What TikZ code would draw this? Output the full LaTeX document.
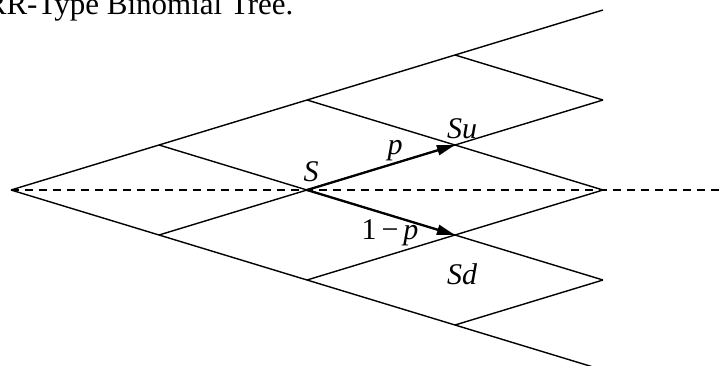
\documentclass[tikz,border=0pt]{standalone}
\usepackage{fontspec}
\setmainfont{Liberation Serif}
\usepackage{tikz}
\usetikzlibrary{arrows.meta,positioning}
\definecolor{treeink}{HTML}{000000}

\tikzset{
  lattice/.style={line width=1.4pt, color=treeink, line join=miter},
  midline/.style={line width=1.3pt, color=treeink, dash pattern=on 8pt off 6pt},
  probarrow/.style={line width=2.3pt, color=treeink, -{Triangle[length=18pt, width=10pt]}},
  lbl/.style={font=\fontsize{30}{34}\selectfont\itshape, inner sep=0pt, anchor=base}
}

\begin{document}
\begin{tikzpicture}[x=1pt, y=-1pt]
  \useasboundingbox[fill=white] (0, 0) rectangle (724, 365);

  % Title (cut off at the top edge)
  \node[font=\fontsize{31}{36}\selectfont, inner sep=0pt, anchor=base west] (title) at (-35, 14) {CRR-Type Binomial Tree.};

  % Lattice points
  \coordinate (a0) at (11, 190);
  \coordinate (b1) at (159, 145);
  \coordinate (b2) at (159, 235);
  \coordinate (c1) at (307, 100);
  \coordinate (c2) at (307, 190);
  \coordinate (c3) at (307, 280);
  \coordinate (d1) at (455, 55);
  \coordinate (d2) at (455, 145);
  \coordinate (d3) at (455, 235);
  \coordinate (d4) at (455, 325);
  \coordinate (e1) at (603, 10);
  \coordinate (e2) at (603, 100);
  \coordinate (e3) at (603, 190);
  \coordinate (e4) at (603, 280);
  \coordinate (e5) at (603, 370);
  \coordinate (tail) at (724, 190);

  % Dashed middle line
  \draw[midline] (a0) -- (tail);

  % Up and down moves
  \draw[lattice] (a0) -- (b1) -- (c1) -- (d1) -- (e1);
  \draw[lattice] (a0) -- (b2) -- (c3) -- (d4) -- (e5);
  \draw[lattice] (b1) -- (c2) -- (d3) -- (e4);
  \draw[lattice] (c1) -- (d2) -- (e3);
  \draw[lattice] (d1) -- (e2);
  \draw[lattice] (b2) -- (c2) -- (d2) -- (e2);
  \draw[lattice] (c3) -- (d3) -- (e3);
  \draw[lattice] (d4) -- (e4);

  % Probability arrows
  \draw[probarrow] (c2) -- (d2);
  \draw[probarrow] (c2) -- (d3);

  % Labels
  \node[lbl] (lblS) at (311, 181) {S};
  \node[lbl] (lblp) at (395, 154) {p};
  \node[lbl] (lblSu) at (462, 138) {Su};
  \node[lbl] (lblq) at (390, 239) {\upshape 1\,−\,\itshape p};
  \node[lbl] (lblSd) at (462, 284) {Sd};
\end{tikzpicture}
\end{document}
